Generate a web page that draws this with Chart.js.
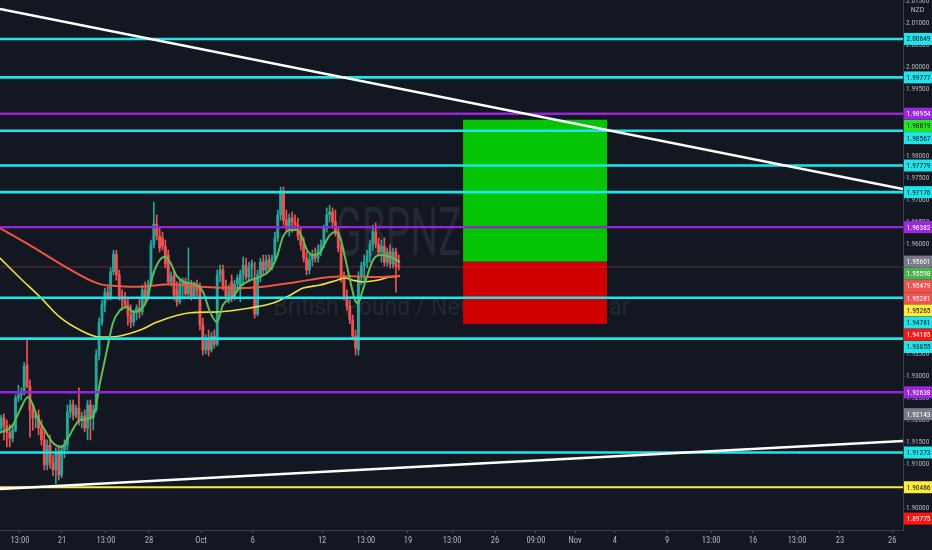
<!DOCTYPE html>
<html><head><meta charset="utf-8">
<script src="https://cdn.jsdelivr.net/npm/chart.js@4.4.0/dist/chart.umd.min.js"></script>
<style>html,body{margin:0;padding:0;background:#131722;overflow:hidden}#wrap{width:932px;height:550px}</style>
</head><body><div id="wrap"><canvas id="c" width="932" height="550"></canvas></div>
<script>
// ---- DATA (GBPNZD, 4H) ----
const candleOpen = [
1.9183,1.9206,1.9187,1.9172,1.9160,1.9178,1.9251,1.9258,1.9264,1.9326,
1.9278,1.9224,1.9206,1.9212,1.9183,1.9156,1.9099,1.9144,1.9104,1.9088,
1.9128,1.9076,1.9133,1.9144,1.9219,1.9235,1.9212,1.9228,1.9201,1.9210,
1.9183,1.9235,1.9206,1.9224,1.9348,1.9423,1.9462,1.9491,1.9480,1.9537,
1.9577,1.9530,1.9482,1.9473,1.9462,1.9439,1.9423,1.9444,1.9455,1.9446,
1.9496,1.9478,1.9509,1.9598,1.9645,1.9618,1.9614,1.9595,1.9575,1.9514,
1.9527,1.9496,1.9469,1.9507,1.9514,1.9487,1.9505,1.9482,1.9505,1.9500,
1.9416,1.9360,1.9382,1.9360,1.9391,1.9373,1.9530,1.9541,1.9505,1.9482,
1.9514,1.9478,1.9509,1.9496,1.9532,1.9552,1.9525,1.9546,1.9523,1.9441,
1.9530,1.9559,1.9541,1.9564,1.9546,1.9568,1.9614,1.9666,1.9718,1.9654,
1.9636,1.9659,1.9650,1.9643,1.9618,1.9598,1.9568,1.9541,1.9564,1.9575,
1.9568,1.9586,1.9598,1.9636,1.9666,1.9673,1.9650,1.9627,1.9591,1.9523,
1.9482,1.9459,1.9428,1.9391,1.9360,1.9527,1.9550,1.9559,1.9573,1.9600,
1.9627,1.9600,1.9582,1.9595,1.9559,1.9582,1.9555,1.9582,1.9550];
const candleHigh = [
1.9212,1.9215,1.9201,1.9190,1.9190,1.9258,1.9280,1.9274,1.9332,1.9382,
1.9292,1.9235,1.9219,1.9224,1.9201,1.9178,1.9156,1.9167,1.9122,1.9138,
1.9144,1.9144,1.9156,1.9235,1.9246,1.9246,1.9235,1.9274,1.9219,1.9224,
1.9246,1.9246,1.9235,1.9360,1.9432,1.9473,1.9500,1.9507,1.9546,1.9586,
1.9586,1.9541,1.9496,1.9491,1.9478,1.9462,1.9450,1.9462,1.9478,1.9507,
1.9514,1.9518,1.9609,1.9695,1.9666,1.9636,1.9627,1.9609,1.9586,1.9537,
1.9541,1.9514,1.9518,1.9523,1.9523,1.9591,1.9518,1.9514,1.9518,1.9512,
1.9432,1.9394,1.9405,1.9400,1.9405,1.9541,1.9552,1.9552,1.9518,1.9507,
1.9530,1.9518,1.9530,1.9541,1.9571,1.9568,1.9559,1.9564,1.9559,1.9541,
1.9568,1.9575,1.9575,1.9575,1.9575,1.9627,1.9677,1.9729,1.9729,1.9677,
1.9668,1.9673,1.9666,1.9659,1.9636,1.9614,1.9582,1.9575,1.9586,1.9591,
1.9598,1.9609,1.9643,1.9682,1.9688,1.9682,1.9677,1.9636,1.9600,1.9537,
1.9496,1.9473,1.9439,1.9405,1.9537,1.9559,1.9575,1.9586,1.9609,1.9643,
1.9648,1.9614,1.9609,1.9614,1.9591,1.9598,1.9591,1.9591,1.9575];
const candleLow = [
1.9174,1.9156,1.9140,1.9140,1.9151,1.9174,1.9242,1.9246,1.9258,1.9274,
1.9162,1.9178,1.9183,1.9167,1.9144,1.9088,1.9088,1.9092,1.9074,1.9056,
1.9065,1.9070,1.9115,1.9133,1.9206,1.9201,1.9206,1.9190,1.9183,1.9174,
1.9156,1.9156,1.9178,1.9219,1.9337,1.9416,1.9446,1.9473,1.9473,1.9530,
1.9518,1.9473,1.9450,1.9455,1.9416,1.9410,1.9414,1.9428,1.9432,1.9439,
1.9462,1.9473,1.9503,1.9591,1.9609,1.9582,1.9586,1.9546,1.9507,1.9505,
1.9473,1.9459,1.9464,1.9478,1.9478,1.9480,1.9473,1.9478,1.9482,1.9405,
1.9348,1.9351,1.9346,1.9355,1.9364,1.9369,1.9514,1.9496,1.9473,1.9466,
1.9469,1.9473,1.9491,1.9469,1.9507,1.9518,1.9514,1.9523,1.9432,1.9437,
1.9514,1.9530,1.9532,1.9537,1.9541,1.9559,1.9605,1.9654,1.9643,1.9627,
1.9618,1.9627,1.9632,1.9609,1.9586,1.9559,1.9530,1.9532,1.9550,1.9559,
1.9559,1.9573,1.9591,1.9627,1.9650,1.9636,1.9618,1.9582,1.9514,1.9473,
1.9450,1.9419,1.9382,1.9348,1.9348,1.9507,1.9514,1.9546,1.9559,1.9586,
1.9591,1.9573,1.9559,1.9550,1.9550,1.9546,1.9546,1.9491,1.9541];
const candleClose = [
1.9206,1.9187,1.9172,1.9160,1.9178,1.9251,1.9258,1.9264,1.9323,1.9278,
1.9224,1.9206,1.9212,1.9183,1.9156,1.9099,1.9144,1.9104,1.9088,1.9128,
1.9076,1.9133,1.9144,1.9219,1.9235,1.9212,1.9228,1.9201,1.9210,1.9183,
1.9235,1.9206,1.9224,1.9348,1.9423,1.9462,1.9491,1.9480,1.9537,1.9577,
1.9530,1.9482,1.9473,1.9462,1.9439,1.9423,1.9444,1.9455,1.9446,1.9496,
1.9478,1.9509,1.9598,1.9645,1.9618,1.9591,1.9595,1.9555,1.9514,1.9527,
1.9484,1.9469,1.9507,1.9514,1.9487,1.9505,1.9482,1.9505,1.9496,1.9416,
1.9360,1.9382,1.9360,1.9391,1.9373,1.9530,1.9541,1.9505,1.9482,1.9496,
1.9478,1.9509,1.9523,1.9532,1.9552,1.9525,1.9546,1.9555,1.9441,1.9530,
1.9559,1.9541,1.9564,1.9546,1.9568,1.9614,1.9666,1.9718,1.9654,1.9636,
1.9659,1.9650,1.9643,1.9618,1.9598,1.9568,1.9541,1.9564,1.9575,1.9568,
1.9586,1.9598,1.9636,1.9666,1.9673,1.9650,1.9627,1.9591,1.9523,1.9482,
1.9459,1.9428,1.9391,1.9364,1.9527,1.9550,1.9559,1.9573,1.9600,1.9627,
1.9600,1.9582,1.9595,1.9559,1.9582,1.9555,1.9582,1.9550,1.9548];

// moving averages (x in 4H bar slots, y price)
const greenMaSlots = [-0.38,4.13,6.56,9.33,11.07,12.46,14.54,18.0,21.1,22.9,27.4,31.9,34.3,36.75,38.8,41.3,43.7,45.8,48.2,50.6,52.7,55.1,56.9,58.6,61.0,64.5,68.0,70.1,72.5,74.9,77.0,80.5,82.9,86.4,89.8,93.3,95.7,97.8,100.3,102.7,104.4,106.2,108.2,110.7,112.4,114.1,115.9,117.6,119.3,121.1,122.8,123.9,125.2,126.9,129.1,131.5,133.9,136.0,138.4];
const greenMaValues = [1.9172,1.9190,1.9224,1.9253,1.9235,1.9208,1.9185,1.9149,1.9140,1.9156,1.9201,1.9208,1.9285,1.9360,1.9421,1.9450,1.9457,1.9446,1.9450,1.9473,1.9530,1.9564,1.9571,1.9559,1.9527,1.9512,1.9507,1.9491,1.9446,1.9423,1.9462,1.9480,1.9503,1.9518,1.9525,1.9541,1.9571,1.9616,1.9632,1.9632,1.9616,1.9586,1.9575,1.9580,1.9602,1.9620,1.9627,1.9616,1.9571,1.9518,1.9473,1.9466,1.9489,1.9525,1.9564,1.9575,1.9573,1.9568,1.9559];
const redMaSlots = [-0.38,11.07,22.9,34.3,40.2,48.2,58.6,69.0,82.9,90.9,102.7,114.1,121.1,131.5,138.4];
const redMaValues = [1.9636,1.9593,1.9546,1.9509,1.9505,1.9503,1.9509,1.9503,1.9500,1.9503,1.9514,1.9525,1.9527,1.9525,1.9528];
const yellowMaSlots = [-0.38,6.56,13.5,20.4,27.4,34.3,37.8,48.2,54.1,65.6,74.9,86.4,94.4,100.3,104.8,110.7,116.6,119.3,122.1,125.6,130.5,134.9,138.4];
const yellowMaValues = [1.9568,1.9523,1.9480,1.9434,1.9405,1.9389,1.9389,1.9405,1.9423,1.9444,1.9446,1.9455,1.9466,1.9484,1.9500,1.9507,1.9518,1.9523,1.9518,1.9514,1.9518,1.9525,1.9527];

// horizontal levels
const cyanLevels = [2.00649,1.99777,1.98567,1.97779,1.97176,1.94781,1.93855,1.91273];
const purpleLevels = [1.98954,1.96382,1.92638];
const yellowLevels = [1.90486];
const lastPrice = 1.95479;

// trend lines (slot, price)
const upperTrendSlots = [-0.38, 312.97];
const upperTrendValues = [2.01328, 1.97247];
const lowerTrendSlots = [-0.38, 312.97];
const lowerTrendValues = [1.90446, 1.91534];

// long position box
const boxSlots = [160.3, 210.3];
const boxTarget = 1.98819;
const boxEntry = 1.95598;
const boxStop = 1.94185;

// axes
const xRange = [-0.38, 312.97];
const yRange = [1.895162, 2.015316];
const xTickSlots = [6.56,21.13,36.4,51.3,69.4,87.4,111.4,126.6,141.2,156.5,171.4,185.6,199.2,213.0,231.1,246.4,260.9,276.2,291.1,309.2];
const xTickLabels = ['13:00','21','13:00','28','Oct','6','12','13:00','19','13:00','26','09:00','Nov','4','9','13:00','16','13:00','23','26'];
const yTickValues = [1.900,1.905,1.910,1.915,1.920,1.925,1.930,1.935,1.940,1.945,1.950,1.955,1.960,1.965,1.970,1.975,1.980,1.985,1.990,1.995,2.000,2.005,2.010,2.015];

// price tags on the right axis
const tagValues = [2.00649,1.99777,1.98954,1.98819,1.98567,1.97779,1.97176,1.96382,1.95601,1.95598,1.95479,1.95281,1.95265,1.94781,1.94185,1.93855,1.92638,1.92143,1.91273,1.90486,1.89775];
const tagBg = ['#1fe4ea','#1fe4ea','#9c27e0','#22e622','#1fe4ea','#1fe4ea','#1fe4ea','#9c27e0','#787b86','#4caf50','#ef5350','#ef5350','#ffeb3b','#1fe4ea','#ff1414','#1fe4ea','#9c27e0','#787b86','#1fe4ea','#ffeb3b','#ff1414'];
const tagFg = ['#131722','#131722','#ffffff','#131722','#131722','#131722','#131722','#ffffff','#ffffff','#ffffff','#ffffff','#ffffff','#131722','#131722','#ffffff','#131722','#ffffff','#ffffff','#131722','#131722','#ffffff'];
const currencyLabel = 'NZD';
const watermarkTitle = 'GBPNZD, 240';
const watermarkSubtitle = 'British Pound / New Zealand Dollar';

// ---- CHART ----
const FONT = "'Liberation Sans Narrow','Roboto Condensed','DejaVu Sans Condensed',Roboto,sans-serif";
Chart.defaults.font.family = FONT;
const UP = '#26a69a', DOWN = '#ef5350';
const candleColors = candleOpen.map((o, i) => candleClose[i] >= o ? UP : DOWN);
const pts = (xs, ys) => xs.map((x, i) => ({x, y: ys[i]}));
const hline = v => [{x: xRange[0] - 2, y: v}, {x: xRange[1] + 2, y: v}];

const lineBase = {type: 'line', pointRadius: 0, fill: false, tension: 0};
const datasets = [];
datasets.push({...lineBase, data: pts(boxSlots, [boxTarget, boxTarget]), borderWidth: 0, borderColor: 'rgba(0,0,0,0)', backgroundColor: '#05c405', fill: {value: boxEntry}, order: 100});
datasets.push({...lineBase, data: pts(boxSlots, [boxStop, boxStop]), borderWidth: 0, borderColor: 'rgba(0,0,0,0)', backgroundColor: '#cf0000', fill: {value: boxEntry}, order: 99});
datasets.push({type: 'bar', data: candleLow.map((l, i) => ({x: i, y: [l, candleHigh[i]]})), backgroundColor: candleColors, barThickness: 1, grouped: false, borderWidth: 0, order: 50});
datasets.push({type: 'bar', data: candleOpen.map((o, i) => ({x: i, y: [o, candleClose[i]]})), backgroundColor: candleColors, barThickness: 2.2, grouped: false, borderWidth: 0, minBarLength: 1, order: 49});
datasets.push({...lineBase, data: hline(lastPrice), borderColor: 'rgba(239,83,80,0.35)', borderWidth: 1, order: 40});
datasets.push({...lineBase, data: pts(yellowMaSlots, yellowMaValues), borderColor: '#f2e13a', borderWidth: 1.6, cubicInterpolationMode: 'monotone', order: 32});
datasets.push({...lineBase, data: pts(redMaSlots, redMaValues), borderColor: '#f0553f', borderWidth: 2, cubicInterpolationMode: 'monotone', order: 31});
datasets.push({...lineBase, data: pts(greenMaSlots, greenMaValues), borderColor: '#5cbf55', borderWidth: 2, cubicInterpolationMode: 'monotone', order: 30});
cyanLevels.forEach(v => datasets.push({...lineBase, data: hline(v), borderColor: '#1fe4ea', borderWidth: 2.6, order: 20}));
purpleLevels.forEach(v => datasets.push({...lineBase, data: hline(v), borderColor: '#9a22d8', borderWidth: 2.4, order: 20}));
yellowLevels.forEach(v => datasets.push({...lineBase, data: hline(v), borderColor: '#ffeb3b', borderWidth: 2, order: 20}));
datasets.push({...lineBase, data: pts(upperTrendSlots, upperTrendValues), borderColor: '#ffffff', borderWidth: 2.6, order: 10});
datasets.push({...lineBase, data: pts(lowerTrendSlots, lowerTrendValues), borderColor: '#ffffff', borderWidth: 2.6, order: 10});

function fitText(ctx, text, cx, y, font, width) {
  ctx.font = font;
  const m = ctx.measureText(text).width;
  ctx.save(); ctx.translate(cx, y); ctx.scale(width / m, 1); ctx.fillText(text, 0, 0); ctx.restore();
}
const bgPlugin = {id: 'bg', beforeDraw(c) { const x = c.ctx; x.save(); x.fillStyle = '#131722'; x.fillRect(0, 0, c.width, c.height); x.restore(); }};
const wmPlugin = {id: 'wm', beforeDatasetsDraw(c) {
  const {ctx, chartArea: a} = c; const cx = (a.left + a.right) / 2;
  ctx.save(); ctx.fillStyle = 'rgba(255,255,255,0.075)'; ctx.textAlign = 'center'; ctx.textBaseline = 'alphabetic';
  fitText(ctx, watermarkTitle, cx, a.top + 255, '66px Roboto', 232);
  fitText(ctx, watermarkSubtitle, cx, a.top + 315, '25px Roboto', 356);
  ctx.restore();
}};
const tagPlugin = {id: 'tags', afterDraw(c) {
  const {ctx} = c; const ys = c.scales.y; const left = ys.left;
  const items = tagValues.map((v, i) => ({v, bg: tagBg[i], fg: tagFg[i]})).sort((a, b) => b.v - a.v);
  let prev = -1e9;
  ctx.save(); ctx.font = '8px ' + FONT; ctx.textBaseline = 'middle'; ctx.textAlign = 'left';
  for (const t of items) {
    let y = ys.getPixelForValue(t.v);
    if (y < prev + 12.2) y = prev + 12.2;
    prev = y;
    ctx.fillStyle = t.bg; ctx.fillRect(left + 1, y - 6, c.width - left - 1, 12);
    ctx.fillStyle = t.fg; ctx.fillText(t.v.toFixed(5), left + 3.5, y + 0.5, c.width - left - 5);
  }
  ctx.fillStyle = '#b2b5be'; ctx.textAlign = 'center';
  ctx.fillText(currencyLabel, left + 14.5, 10);
  ctx.restore();
}};

new Chart(document.getElementById('c'), {
  type: 'line',
  data: {datasets},
  options: {
    responsive: false, animation: false, devicePixelRatio: 1, events: [],
    layout: {padding: 0},
    plugins: {legend: {display: false}, tooltip: {enabled: false}},
    scales: {
      x: {
        type: 'linear', position: 'bottom', min: xRange[0], max: xRange[1], offset: false,
        afterBuildTicks(s) { s.ticks = xTickSlots.map(v => ({value: v})); },
        afterFit(s) { s.height = 20; s.paddingLeft = 0; s.paddingRight = 0; },
        ticks: {autoSkip: false, maxRotation: 0, minRotation: 0, padding: 3, color: '#b2b5be', font: {size: 8.5},
          callback: (v, i) => xTickLabels[i]},
        grid: {drawOnChartArea: false, drawTicks: true, tickLength: 3, tickColor: '#4a4e59', offset: false},
        border: {color: '#3a3e49', width: 1}
      },
      y: {
        type: 'linear', position: 'right', min: yRange[0], max: yRange[1],
        afterBuildTicks(s) { s.ticks = yTickValues.map(v => ({value: v})); },
        afterFit(s) { s.width = 29; s.paddingTop = 0; s.paddingBottom = 0; },
        ticks: {padding: 1, color: '#b2b5be', font: {size: 7.2}, callback: v => Number(v).toFixed(5)},
        grid: {drawOnChartArea: false, drawTicks: true, tickLength: 2, tickColor: '#4a4e59'},
        border: {color: '#3a3e49', width: 1}
      }
    }
  },
  plugins: [bgPlugin, wmPlugin, tagPlugin]
});
</script>
</body></html>
